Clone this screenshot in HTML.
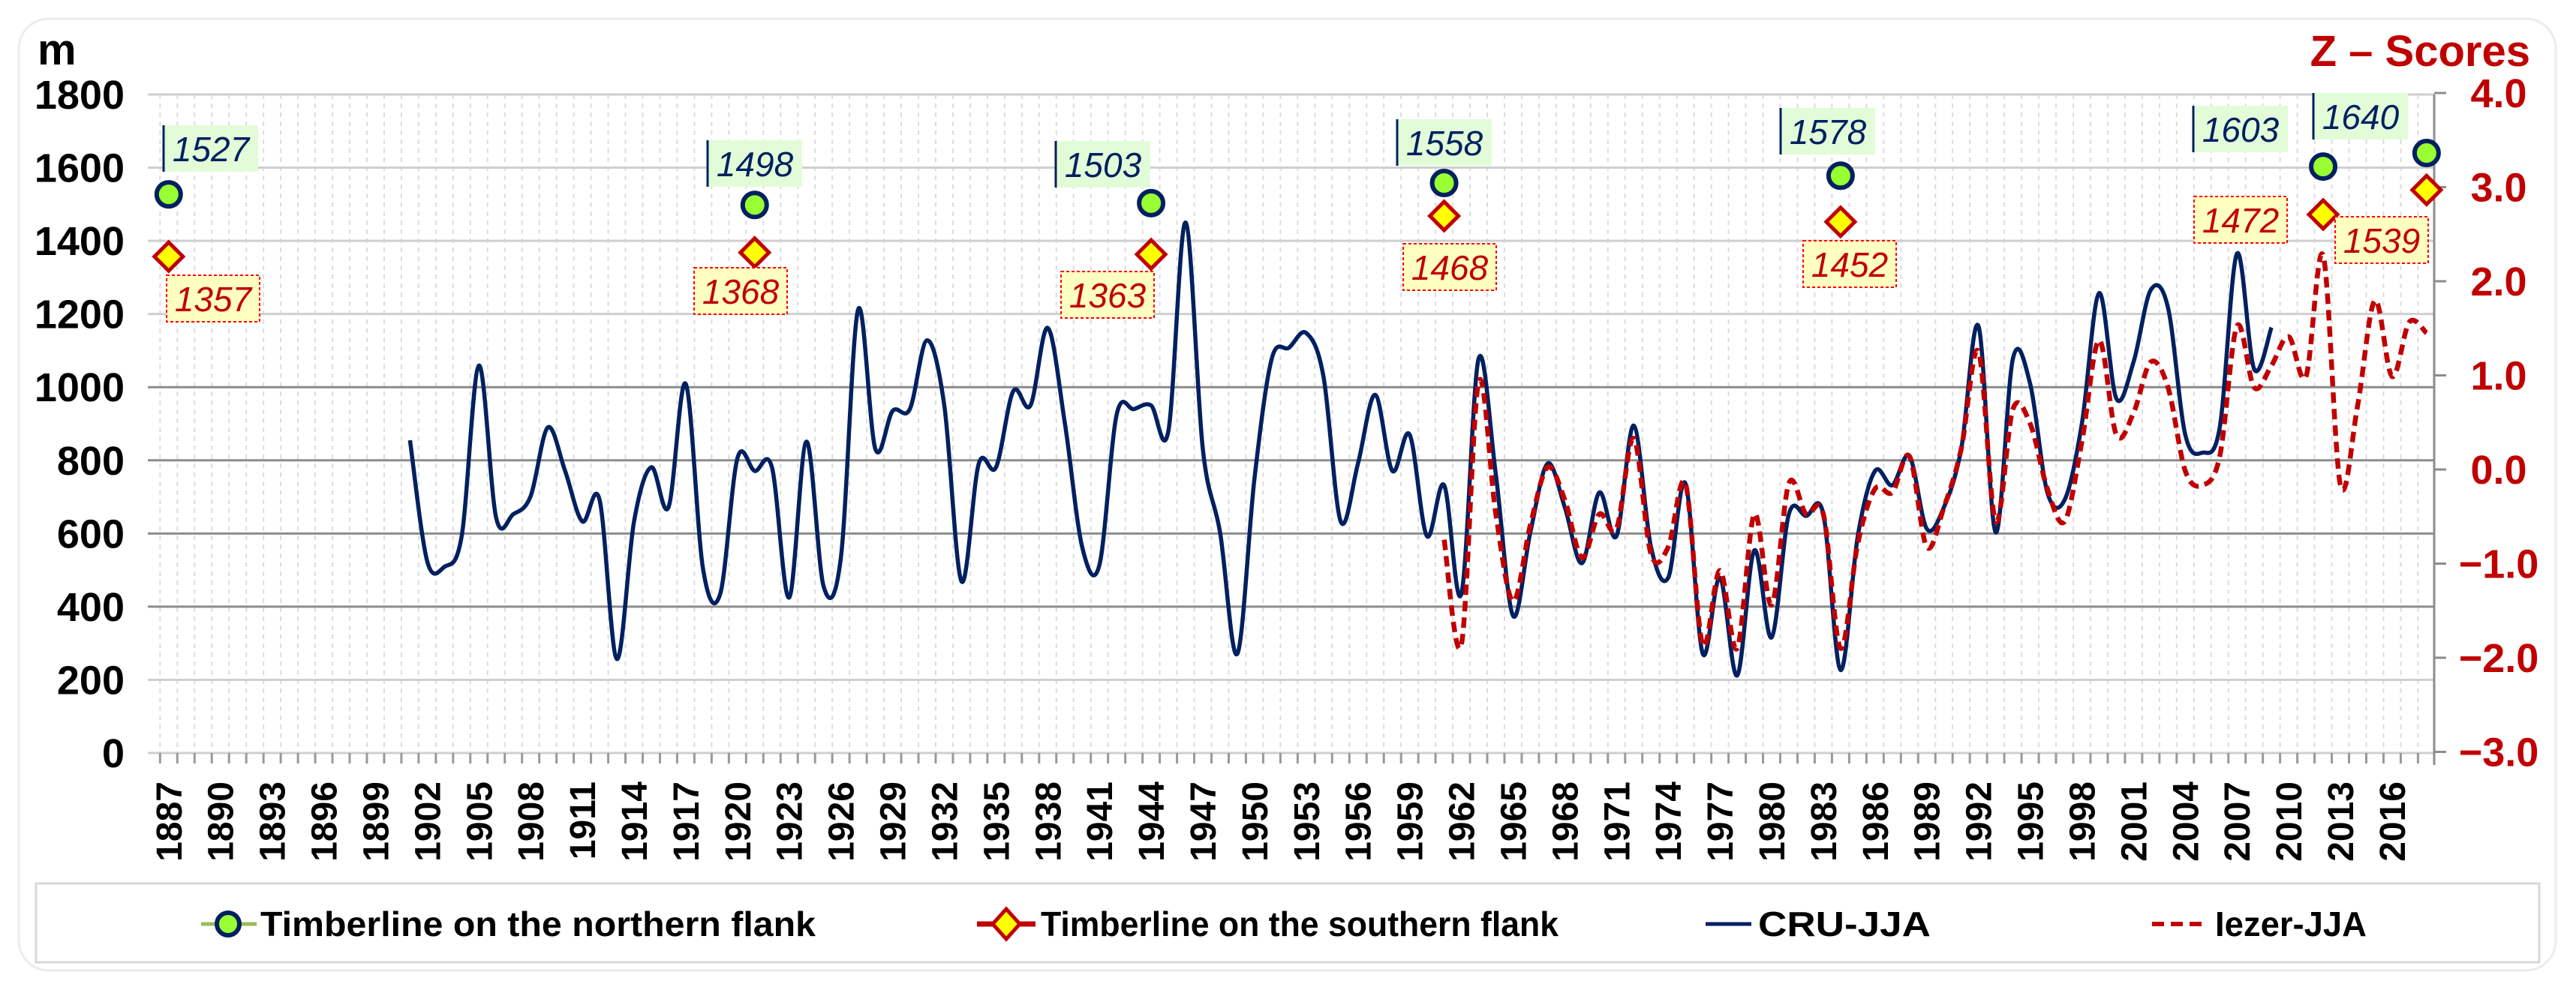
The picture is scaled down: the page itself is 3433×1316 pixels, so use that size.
<!DOCTYPE html>
<html><head><meta charset="utf-8"><style>
html,body{margin:0;padding:0;background:#fff;}
svg{display:block;}
text{font-family:"Liberation Sans",Arial,sans-serif;}
</style></head><body>
<svg id="chart" width="3433" height="1316" viewBox="0 0 3433 1316" xmlns="http://www.w3.org/2000/svg">
<rect x="25" y="25" width="3381" height="1269" rx="40" fill="#fff" stroke="#ececec" stroke-width="3"/>
<g id="grid"></g>
<g id="axes"></g>
<g id="series"></g>
<g id="labels"></g>
<text x="50" y="86" font-size="58" font-weight="bold" fill="#000">m</text>
<text x="3372" y="88" font-size="58" font-weight="bold" fill="#c00000" text-anchor="end">Z – Scores</text>
<rect x="48" y="1178" width="3336" height="105" fill="#fff" stroke="#d8d8d8" stroke-width="3"/>
<g>
<line x1="268" y1="1232" x2="342" y2="1232" stroke="#9bbb59" stroke-width="5"/>
<circle cx="304" cy="1232" r="15" fill="#99ff33" stroke="#002060" stroke-width="6"/>
<text x="347" y="1248" font-size="46" font-weight="bold" textLength="740" lengthAdjust="spacingAndGlyphs">Timberline on the northern flank</text>
</g>
<g>
<line x1="1302" y1="1232" x2="1380" y2="1232" stroke="#c00000" stroke-width="7"/>
<polygon points="1341,1212 1359,1232 1341,1252 1323,1232" fill="#ffff00" stroke="#c00000" stroke-width="5"/>
<text x="1387" y="1248" font-size="46" font-weight="bold" textLength="690" lengthAdjust="spacingAndGlyphs">Timberline on the southern flank</text>
</g>
<g>
<line x1="2273" y1="1232" x2="2334" y2="1232" stroke="#002060" stroke-width="5"/>
<text x="2343" y="1248" font-size="46" font-weight="bold" textLength="230" lengthAdjust="spacingAndGlyphs">CRU-JJA</text>
</g>
<g>
<line x1="2868" y1="1232" x2="2942" y2="1232" stroke="#c00000" stroke-width="6" stroke-dasharray="16,9"/>
<text x="2952" y="1248" font-size="46" font-weight="bold" textLength="202" lengthAdjust="spacingAndGlyphs">Iezer-JJA</text>
</g>
</svg>
<script>
const leftTicks = [0,200,400,600,800,1000,1200,1400,1600,1800];
const rightTicks = ["4.0","3.0","2.0","1.0","0.0","−1.0","−2.0","−3.0"];
const rightTickValues = [4,3,2,1,0,-1,-2,-3];
const cruYears = [1901,1902,1903,1904,1905,1906,1907,1908,1909,1910,1911,1912,1913,1914,1915,1916,1917,1918,1919,1920,1921,1922,1923,1924,1925,1926,1927,1928,1929,1930,1931,1932,1933,1934,1935,1936,1937,1938,1939,1940,1941,1942,1943,1944,1945,1946,1947,1948,1949,1950,1951,1952,1953,1954,1955,1956,1957,1958,1959,1960,1961,1962,1963,1964,1965,1966,1967,1968,1969,1970,1971,1972,1973,1974,1975,1976,1977,1978,1979,1980,1981,1982,1983,1984,1985,1986,1987,1988,1989,1990,1991,1992,1993,1994,1995,1996,1997,1998,1999,2000,2001,2002,2003,2004,2005,2006,2007,2008,2009];
const cruValues = [855,524,509,593,1059,643,653,702,890,771,633,692,257,633,781,672,1009,504,435,806,771,781,425,851,455,534,1212,831,935,940,1128,950,469,791,781,989,950,1162,900,563,514,925,940,950,880,1450,831,603,271,752,1078,1108,1148,1029,633,791,979,771,870,593,732,435,1078,761,375,603,791,672,519,712,593,895,563,479,737,272,479,212,554,316,653,648,653,227,593,771,732,811,613,672,831,1167,603,1078,1009,712,692,900,1257,969,1069,1266,1217,870,821,890,1365,1049,1163];
const iezerYears = [1961,1962,1963,1964,1965,1966,1967,1968,1969,1970,1971,1972,1973,1974,1975,1976,1977,1978,1979,1980,1981,1982,1983,1984,1985,1986,1987,1988,1989,1990,1991,1992,1993,1994,1995,1996,1997,1998,1999,2000,2001,2002,2003,2004,2005,2006,2007,2008,2009,2010,2011,2012,2013,2014,2015,2016,2017,2018];
const iezerValues = [583,296,1014,653,415,623,781,692,534,653,613,860,544,563,737,296,499,286,653,405,737,653,653,286,573,722,712,811,563,672,831,1098,633,940,900,722,633,851,1128,870,930,1069,999,771,732,811,1167,999,1059,1138,1029,1360,732,950,1237,1029,1178,1148];
const markerYears = [1887,1921,1944,1961,1984,2012,2018];
const northernValues = [1527,1498,1503,1558,1578,1603,1640];
const southernValues = [1357,1368,1363,1468,1452,1472,1539];
const tickYears = [];
for (let y = 1887; y <= 2016; y += 3) tickYears.push(y);

const NS = "http://www.w3.org/2000/svg";
const PL = 197, PR = 3244, PT = 126, PB = 1004;
function xYear(y){ return 224.8 + (y - 1887) * 22.97; }
function yLeft(v){ return PB - v * (PB - PT) / 1800; }
function yRight(z){ return 626 - z * 125.5; }
function mk(tag, attrs, parent){ const e = document.createElementNS(NS, tag); for (const k in attrs) e.setAttribute(k, attrs[k]); parent.appendChild(e); return e; }
const grid = document.getElementById('grid'), axes = document.getElementById('axes'), series = document.getElementById('series'), labels = document.getElementById('labels');

for (let y = 1886; y <= 2018; y++) {
  const x = xYear(y) + 11.5;
  if (x < PL || x > PR) continue;
  const l = mk('line', {x1:x, y1:PT, x2:x, y2:PB, stroke:'#dcdcdc', 'stroke-width':2, 'stroke-dasharray':'6,6'}, grid);
  
  
  const t = mk('line', {x1:x, y1:PB, x2:x, y2:PB+14, stroke:'#999', 'stroke-width':3}, axes);
  
  
}
leftTicks.forEach(v => {
  const y = yLeft(v);
  const dark = (v >= 400 && v <= 1000);
  const l = mk('line', {x1:PL, y1:y, x2:PR, y2:y, stroke: dark ? '#8c8c8c' : '#cfcfcf', 'stroke-width':3}, grid);
  
  
  const t = mk('text', {x:166, y:y+19, 'font-size':54, 'font-weight':'bold', 'text-anchor':'end', fill:'#000'}, axes);
  t.textContent = v;
  
  
});
const ra = mk('line', {x1:PR, y1:PT, x2:PR, y2:PB+16, stroke:'#8c8c8c', 'stroke-width':3}, axes);


rightTickValues.forEach((z, i) => {
  const y = yRight(z);
  const tm = mk('line', {x1:PR, y1:y, x2:PR+16, y2:y, stroke:'#8c8c8c', 'stroke-width':3}, axes);
  
  
  const t = mk('text', {x:3330, y:y+19, 'font-size':54, 'font-weight':'bold', 'text-anchor':'middle', fill:'#c00000'}, axes);
  t.textContent = rightTicks[i];
  
  
});
tickYears.forEach(yr => {
  const x = xYear(yr);
  const t = mk('text', {x:0, y:0, 'font-size':48, 'font-weight':'bold', 'text-anchor':'end', fill:'#000', transform:`translate(${x+17},1042) rotate(-90)`}, axes);
  t.textContent = yr;
  
  
});
function smooth(pts){
  let d = `M${pts[0][0]},${pts[0][1]}`;
  for (let i = 0; i < pts.length - 1; i++) {
    const p0 = pts[i-1] || pts[i], p1 = pts[i], p2 = pts[i+1], p3 = pts[i+2] || p2;
    const c1x = p1[0] + (p2[0]-p0[0])/6, c1y = p1[1] + (p2[1]-p0[1])/6;
    const c2x = p2[0] - (p3[0]-p1[0])/6, c2y = p2[1] - (p3[1]-p1[1])/6;
    d += ` C${c1x},${c1y} ${c2x},${c2y} ${p2[0]},${p2[1]}`;
  }
  return d;
}
const cru = mk('path', {d: smooth(cruYears.map((y,i)=>[xYear(y), yLeft(cruValues[i])])), fill:'none', stroke:'#002060', 'stroke-width':5.5, 'stroke-linejoin':'round'}, series);


const iez = mk('path', {d: smooth(iezerYears.map((y,i)=>[xYear(y), yLeft(iezerValues[i])])), fill:'none', stroke:'#c00000', 'stroke-width':6.5, 'stroke-dasharray':'14,8'}, series);



const nBox = [[281,198],[1006,218],[1470,219],[1925,190],[2436,175],[2986,172],[3146,155]];
const sBox = [[284,398],[987,388],[1476,393],[1932,356],[2465,352],[2986,293],[3174,320]];
markerYears.forEach((yr, i) => {
  const x = xYear(yr);
  const yn = yLeft(northernValues[i]);
  const ys = yLeft(southernValues[i]);
  const d = mk('polygon', {points:`${x},${ys-19} ${x+19},${ys} ${x},${ys+19} ${x-19},${ys}`, fill:'#ffff00', stroke:'#c00000', 'stroke-width':5}, series);
  
  
  const c = mk('circle', {cx:x, cy:yn, r:16, fill:'#99ff33', stroke:'#002060', 'stroke-width':6}, series);
  
  
  const [nx, ny] = nBox[i];
  const nb = mk('rect', {x:nx-63, y:ny-31, width:126, height:62, fill:'#e2fcd8'}, labels);
  
  
  const nl = mk('line', {x1:nx-63, y1:ny-31, x2:nx-63, y2:ny+31, stroke:'#002060', 'stroke-width':3}, labels);
  
  
  const nt = mk('text', {x:nx, y:ny+17, 'font-size':46, 'font-style':'italic', 'text-anchor':'middle', fill:'#002060'}, labels);
  nt.textContent = northernValues[i];
  
  
  const [sx, sy] = sBox[i];
  const sb = mk('rect', {x:sx-62, y:sy-31, width:124, height:62, fill:'#ffffc0', stroke:'#ff0000', 'stroke-width':2, 'stroke-dasharray':'4,3'}, labels);
  
  
  const st = mk('text', {x:sx, y:sy+17, 'font-size':46, 'font-style':'italic', 'text-anchor':'middle', fill:'#c00000'}, labels);
  st.textContent = southernValues[i];
  
  
});
</script>
</body></html>
